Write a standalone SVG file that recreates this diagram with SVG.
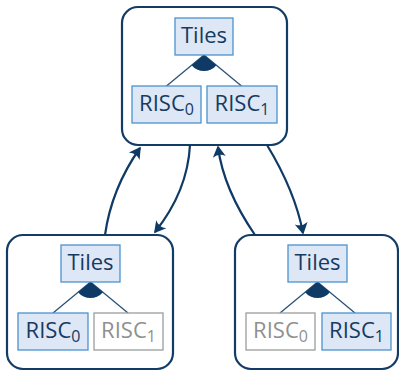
<svg xmlns="http://www.w3.org/2000/svg" width="399" height="371" viewBox="0 0 399 371">
  <style>
    .frame { fill: #ffffff; stroke: #123c66; stroke-width: 2.2; }
    .feat { fill: #dde7f6; stroke: #4a93d0; stroke-width: 1.3; }
    .off { fill: #ffffff; stroke: #9a9d9c; stroke-width: 1.3; }
    .lbl { font-family: "Open Sans", "Noto Sans", sans-serif; font-size: 22px; fill: #163a60; text-anchor: middle; }
    .lbl.dim { fill: #8e9190; }
    .sub { font-size: 16px; }
    .tree { stroke: #2b5378; stroke-width: 1.3; fill: none; }
    .wedge { fill: #0f3a66; }
    .edge { fill: none; stroke: #0f3a66; stroke-width: 2.2; }
  </style>
  <defs>
    <marker id="head" viewBox="-12 -7 14 14" refX="0" refY="0" markerWidth="14" markerHeight="14" markerUnits="userSpaceOnUse" orient="auto">
      <path d="M1.5,0 L-10,-6.5 Q-6,0 -10,6.5 Z" fill="#0f3a66"/>
    </marker>
    <!-- or-group decomposition: two branches and a filled sector at the parent -->
    <g id="orGroup">
      <path class="tree" d="M0,0 L-37.5,31 M0,0 L37.5,31"/>
      <path class="wedge" d="M0,0 L-12.4,10.2 A16,16 0 0 0 12.4,10.2 Z"/>
    </g>
  </defs>

  <!-- shared processor context -->
  <g id="top">
    <rect class="frame" x="122" y="7" width="165" height="138" rx="16"/>
    <use href="#orGroup" transform="translate(204,55)"/>
    <rect class="feat" x="175" y="18" width="58" height="37"/>
    <text class="lbl" x="204" y="43">Tiles</text>
    <rect class="feat" x="132" y="86" width="69" height="37"/>
    <text class="lbl" x="166.5" y="111">RISC<tspan class="sub" dy="4">0</tspan></text>
    <rect class="feat" x="207" y="86" width="70" height="37"/>
    <text class="lbl" x="242" y="111">RISC<tspan class="sub" dy="4">1</tspan></text>
  </g>

  <!-- configuration with RISC0 selected -->
  <g id="left">
    <rect class="frame" x="7" y="235" width="166" height="134" rx="16"/>
    <use href="#orGroup" transform="translate(90.5,282)"/>
    <rect class="feat" x="61" y="245" width="59" height="37"/>
    <text class="lbl" x="90.5" y="270">Tiles</text>
    <rect class="feat" x="18" y="313" width="70" height="37"/>
    <text class="lbl" x="53" y="338">RISC<tspan class="sub" dy="4">0</tspan></text>
    <rect class="off" x="94" y="313" width="69" height="37"/>
    <text class="lbl dim" x="128.5" y="338">RISC<tspan class="sub" dy="4">1</tspan></text>
  </g>

  <!-- configuration with RISC1 selected -->
  <g id="right">
    <rect class="frame" x="235" y="235" width="163" height="134" rx="16"/>
    <use href="#orGroup" transform="translate(317.5,282)"/>
    <rect class="feat" x="288" y="245" width="59" height="37"/>
    <text class="lbl" x="317.5" y="270">Tiles</text>
    <rect class="off" x="246" y="313" width="69" height="37"/>
    <text class="lbl dim" x="280.5" y="338">RISC<tspan class="sub" dy="4">0</tspan></text>
    <rect class="feat" x="322" y="313" width="69" height="37"/>
    <text class="lbl" x="356.5" y="338">RISC<tspan class="sub" dy="4">1</tspan></text>
  </g>

  <g id="connectors">
    <path class="edge" d="M105,235 Q111.5,188.5 140,148" marker-end="url(#head)"/>
    <path class="edge" d="M190,145 Q187.5,191.5 155,232" marker-end="url(#head)"/>
    <path class="edge" d="M255,235 Q223.5,189 218,147" marker-end="url(#head)"/>
    <path class="edge" d="M267,145 Q295,191 303,233" marker-end="url(#head)"/>
  </g>
</svg>
